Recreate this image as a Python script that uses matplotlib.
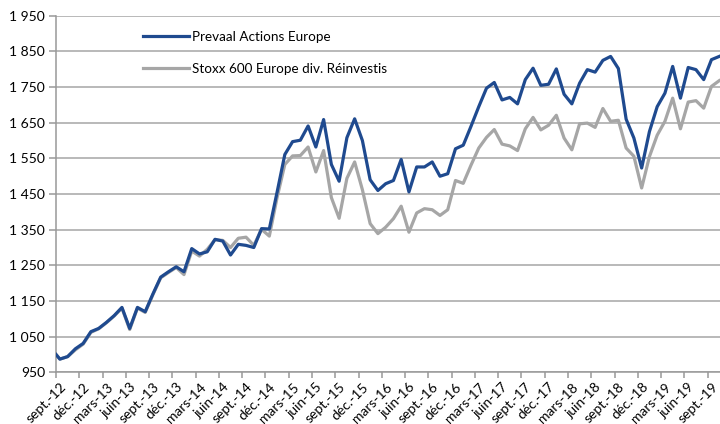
import numpy as np
import matplotlib
matplotlib.use("Agg")
import matplotlib.pyplot as plt
from matplotlib.ticker import FuncFormatter, FixedLocator

plt.rcParams['font.family'] = ['Lato', 'DejaVu Sans']

# Data: start value then month-end values (sept-12 .. oct-19)
start_value = 1000
prevaal = [987, 994, 1016, 1031, 1064, 1073, 1090, 1109, 1132, 1073,
           1132, 1120, 1170, 1217, 1232, 1246, 1232, 1297, 1282, 1288,
           1323, 1318, 1279, 1309, 1306, 1300, 1353, 1352, 1455, 1561,
           1597, 1601, 1641, 1582, 1659, 1533, 1486, 1608, 1661, 1600,
           1490, 1460, 1479, 1488, 1547, 1456, 1526, 1526, 1540, 1500,
           1507, 1577, 1587, 1640, 1695, 1747, 1763, 1714, 1721, 1703,
           1771, 1803, 1755, 1758, 1801, 1730, 1703, 1761, 1799, 1792,
           1825, 1836, 1802, 1660, 1607, 1523, 1625, 1695, 1733, 1808,
           1719, 1805, 1799, 1771, 1827, 1836]
stoxx = [987, 994, 1013, 1029, 1062, 1072, 1089, 1108, 1130, 1070,
         1130, 1118, 1168, 1215, 1230, 1244, 1224, 1290, 1276, 1295,
         1322, 1320, 1300, 1326, 1329, 1306, 1351, 1332, 1440, 1533,
         1557, 1558, 1582, 1512, 1572, 1440, 1382, 1494, 1540, 1462,
         1367, 1339, 1357, 1381, 1416, 1343, 1397, 1409, 1406, 1390,
         1406, 1488, 1480, 1531, 1579, 1609, 1631, 1590, 1585, 1572,
         1633, 1665, 1630, 1643, 1671, 1607, 1574, 1647, 1649, 1637,
         1690, 1654, 1657, 1579, 1556, 1467, 1555, 1615, 1654, 1719,
         1633, 1708, 1712, 1691, 1752, 1768]
series_names = ["Prevaal Actions Europe", "Stoxx 600 Europe div. Réinvestis"]
tick_labels = ["sept.-12", "déc.-12", "mars-13", "juin-13", "sept.-13", "déc.-13",
               "mars-14", "juin-14", "sept.-14", "déc.-14", "mars-15", "juin-15",
               "sept.-15", "déc.-15", "mars-16", "juin-16", "sept.-16", "déc.-16",
               "mars-17", "juin-17", "sept.-17", "déc.-17", "mars-18", "juin-18",
               "sept.-18", "déc.-18", "mars-19", "juin-19", "sept.-19"]

n = len(prevaal)
x = np.r_[0.0, np.arange(n) + 0.5]
yb = np.r_[start_value, prevaal]
yg = np.r_[start_value, stoxx]

W, H = 720, 424
fig = plt.figure(figsize=(W / 100, H / 100), dpi=100)
left, right, top, bottom = 56, 720, 15.8, 372.3
ax = fig.add_axes([left / W, (H - bottom) / H, (right - left) / W, (bottom - top) / H])

blue = "#1f4a8f"
gray = "#a6a6a6"
ax.plot(x, yb, color=blue, lw=2.3, label=series_names[0], zorder=3, solid_joinstyle='round')
ax.plot(x, yg, color=gray, lw=2.3, label=series_names[1], zorder=2, solid_joinstyle='round')

ax.set_xlim(0, 664 / 7.757)
ax.set_ylim(950, 1950)
ax.set_yticks(np.arange(950, 1951, 100))
ax.yaxis.set_major_formatter(FuncFormatter(lambda v, p: f"{int(v):,}".replace(",", " ")))
ax.grid(axis='y', color=gray, lw=1.1, zorder=0)
ax.set_axisbelow(True)

for s in ['top', 'right']:
    ax.spines[s].set_visible(False)
for s in ['left', 'bottom']:
    ax.spines[s].set_color("#999999")
    ax.spines[s].set_linewidth(1.1)

pos = np.arange(len(tick_labels)) * 3
ax.set_xticks(pos + 0.5)
ax.set_xticklabels(tick_labels, rotation=45, ha='right', va='top', rotation_mode='anchor', fontsize=10)
ax.tick_params(axis='x', length=0, pad=6)
ax.xaxis.set_minor_locator(FixedLocator(pos))
ax.tick_params(axis='x', which='minor', length=4, color="#999999", width=1.1)
ax.tick_params(axis='y', length=5, color="#999999", width=1.1, labelsize=10, pad=3)

leg = ax.legend(loc='upper left', bbox_to_anchor=(143 / W, 1 - 31 / H), bbox_transform=fig.transFigure,
                frameon=False, fontsize=9.7, handlelength=3.4, handletextpad=0.2,
                labelspacing=1.45, borderpad=0, borderaxespad=0)

fig.savefig("out.png", dpi=100)
